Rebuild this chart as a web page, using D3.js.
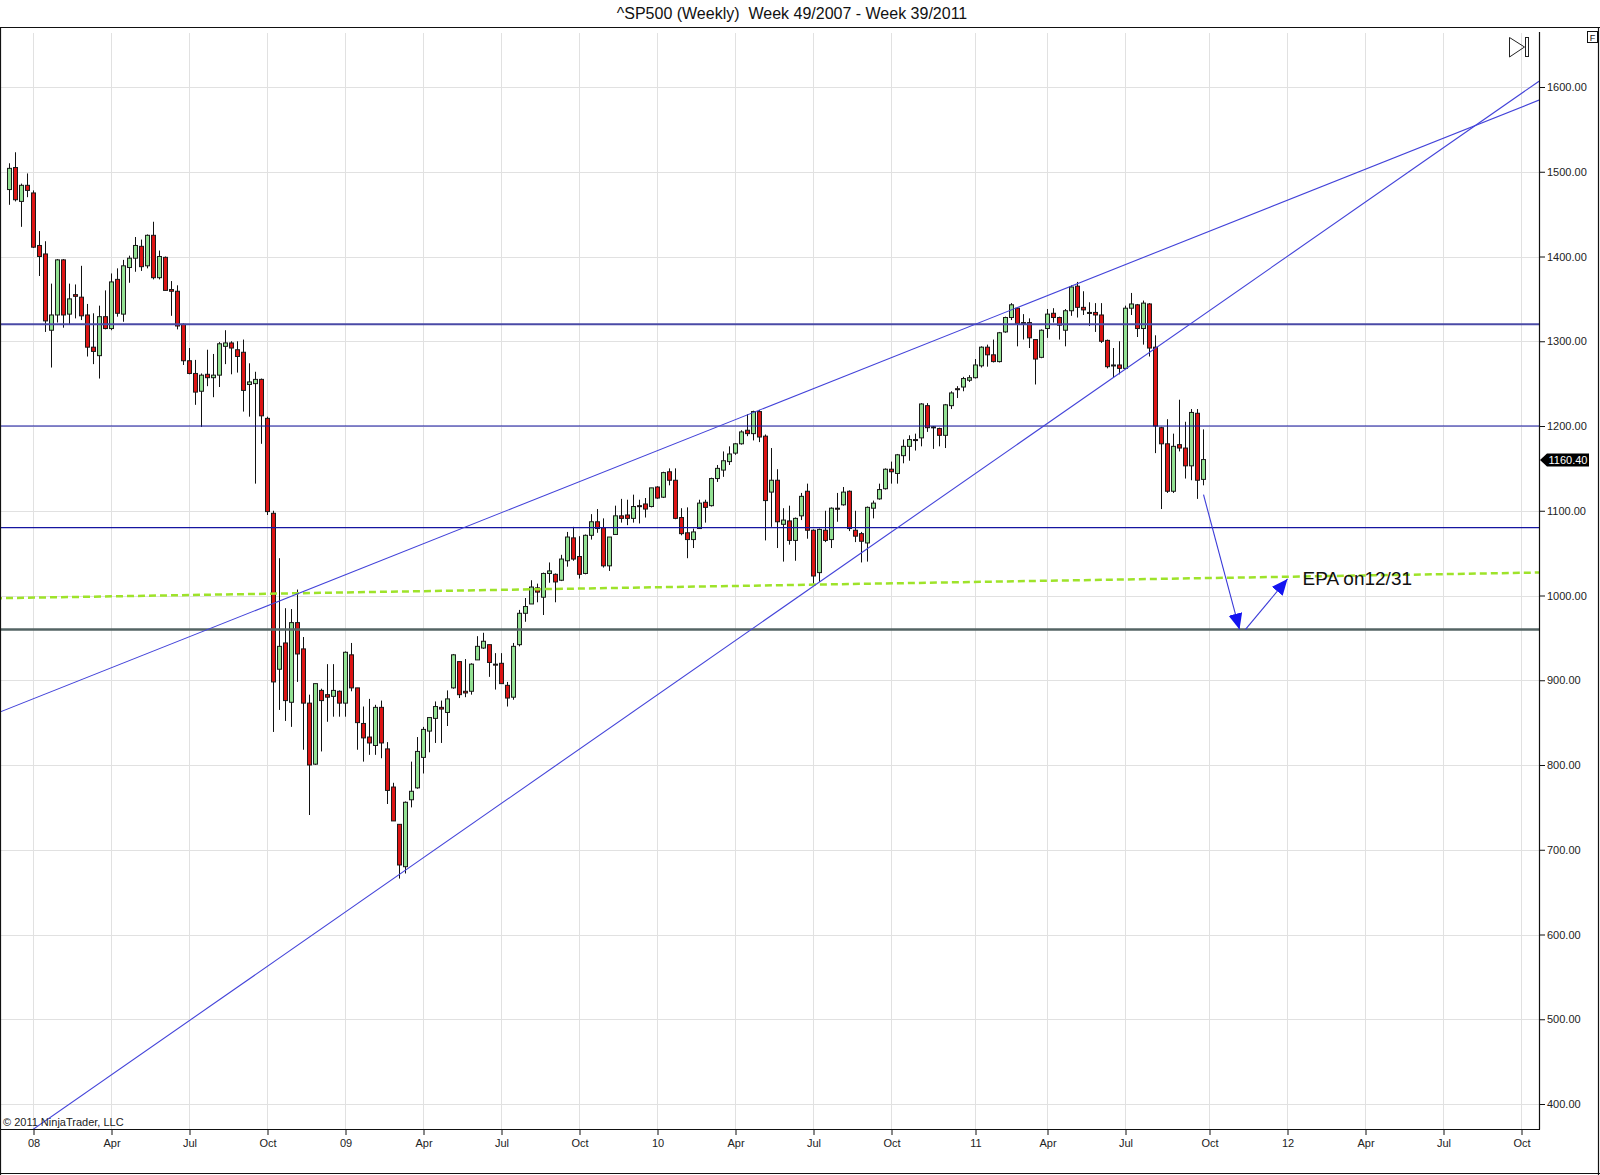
<!DOCTYPE html>
<html><head><meta charset="utf-8">
<script src="https://cdn.jsdelivr.net/npm/d3@7/dist/d3.min.js"></script>
<style>
body{margin:0;background:#fff;}
svg{display:block;font-family:"Liberation Sans",Arial,Helvetica,sans-serif;}
</style>
</head><body>
<svg id="chart" width="1600" height="1175"></svg>
<script>
// ---------------- DATA ----------------
const title = "^SP500 (Weekly)  Week 49/2007 - Week 39/2011";
const firstWeekEnd = "2007-12-07";          // Friday ending the first weekly bar
const opens = [1479,1505,1465,1484,1475,1413,1403,1313,1331,1396,1332,1355,1352,1331,1293,1283,1329,1315,1373,1332,
1387,1398,1412,1389,1425,1375,1399,1361,1359,1320,1277,1262,1241,1261,1257,1260,1294,1298,1290,1287,
1249,1250,1255,1209,1097,913,944,874,968,937,873,801,888,883,881,887,873,930,891,849,
833,823,868,819,774,730,680,759,773,809,840,855,868,862,891,922,887,887,924,938,
942,919,920,894,880,942,979,990,1009,998,1026,1025,1018,1041,1068,1046,1026,1071,1087,1080,
1035,1072,1094,1095,1091,1106,1108,1105,1128,1116,1146,1136,1092,1074,1066,1079,1110,1106,1138,1148,
1158,1168,1179,1195,1191,1217,1188,1122,1136,1084,1088,1065,1094,1123,1077,1027,1077,1066,1103,1107,
1123,1077,1073,1062,1103,1114,1126,1149,1144,1165,1176,1184,1186,1224,1198,1197,1189,1224,1244,1246,
1254,1257,1271,1293,1284,1276,1311,1328,1339,1322,1322,1302,1281,1315,1333,1328,1313,1336,1365,1340,
1334,1334,1331,1301,1272,1272,1268,1339,1343,1315,1344,1293,1198,1179,1123,1178,1174,1153,1215,1137];
const highs = [1510,1523,1486,1498,1478,1430,1418,1368,1397,1397,1368,1367,1389,1344,1333,1342,1360,1380,1386,1396,
1401,1423,1420,1426,1441,1407,1400,1371,1366,1321,1292,1278,1262,1290,1285,1299,1313,1300,1300,1302,
1274,1264,1256,1211,1100,1044,985,984,1007,951,883,896,890,919,919,888,934,944,891,869,
878,871,876,827,779,730,757,804,833,845,856,875,876,888,931,922,925,920,952,956,
942,932,932,898,944,983,997,1018,1014,1027,1039,1026,1048,1075,1081,1070,1072,1096,1102,1091,
1069,1106,1114,1113,1119,1113,1115,1127,1129,1146,1150,1150,1103,1104,1079,1113,1113,1139,1154,1170,
1176,1180,1195,1214,1218,1219,1190,1174,1149,1103,1106,1092,1121,1132,1078,1079,1100,1104,1121,1128,
1124,1100,1075,1105,1112,1132,1150,1158,1167,1184,1189,1191,1227,1227,1200,1198,1226,1241,1247,1258,
1260,1279,1294,1296,1302,1311,1329,1345,1340,1332,1327,1302,1314,1338,1339,1329,1338,1366,1370,1359,
1346,1345,1345,1302,1292,1300,1342,1357,1344,1348,1345,1307,1199,1208,1191,1231,1205,1220,1220,1196];
const lows = [1461,1465,1435,1470,1410,1377,1311,1269,1322,1316,1320,1327,1325,1282,1273,1256,1314,1313,1329,1323,
1369,1382,1383,1386,1373,1373,1360,1330,1314,1272,1261,1225,1199,1247,1234,1246,1273,1261,1263,1217,
1211,1132,1179,1095,839,865,852,845,898,818,741,800,816,851,857,857,857,887,818,804,
812,812,808,754,734,666,672,750,772,790,815,826,826,846,890,879,880,883,924,937,
904,889,896,869,877,940,969,990,992,977,1015,992,1017,1034,1041,1020,1025,1066,1074,1033,
1029,1072,1086,1083,1086,1085,1092,1104,1114,1115,1130,1090,1071,1044,1056,1079,1086,1105,1134,1140,
1154,1166,1178,1188,1183,1181,1065,1081,1056,1040,1060,1041,1089,1067,1014,1016,1063,1056,1087,1106,
1076,1063,1039,1040,1091,1113,1125,1132,1132,1156,1159,1171,1176,1193,1173,1176,1174,1220,1233,1241,
1252,1256,1269,1270,1275,1275,1310,1325,1294,1302,1292,1249,1280,1304,1322,1302,1294,1330,1328,1331,
1318,1311,1298,1268,1257,1261,1267,1331,1305,1296,1282,1168,1102,1121,1121,1170,1138,1136,1114,1130];
const closes = [1504,1467,1484,1478,1411,1400,1324,1331,1396,1331,1350,1353,1330,1293,1288,1329,1315,1370,1333,1389,
1398,1413,1388,1425,1375,1400,1360,1359,1318,1277,1262,1240,1260,1257,1260,1297,1298,1292,1282,1242,
1252,1255,1212,1099,898,940,876,968,931,873,800,896,876,880,888,873,933,891,850,832,
826,868,826,770,734,682,756,769,816,842,856,869,866,878,930,883,885,919,940,946,
921,918,896,879,940,979,987,1010,1004,1026,1029,1016,1043,1069,1043,1025,1071,1087,1079,1035,
1069,1094,1091,1091,1105,1105,1102,1127,1115,1145,1136,1091,1073,1066,1075,1109,1104,1138,1150,1159,
1167,1179,1193,1191,1217,1187,1112,1136,1087,1089,1065,1091,1117,1077,1023,1078,1065,1103,1102,1122,
1079,1070,1064,1104,1109,1125,1149,1146,1166,1176,1184,1183,1226,1198,1199,1189,1225,1239,1243,1256,
1257,1272,1293,1284,1276,1310,1328,1343,1321,1321,1304,1279,1313,1332,1328,1319,1336,1364,1340,1337,
1333,1331,1300,1270,1271,1268,1339,1344,1315,1345,1292,1200,1179,1123,1176,1174,1153,1216,1136,1160.40];

const priceTicks = [400,500,600,700,800,900,1000,1100,1200,1300,1400,1500,1600];
const quarterLabels = ["08","Apr","Jul","Oct","09","Apr","Jul","Oct","10","Apr","Jul","Oct",
                       "11","Apr","Jul","Oct","12","Apr","Jul","Oct"];
const totalWeeks = 256;                       // bars + empty future space on the axis

const levelLines = [1320, 1200, 1080];       // horizontal blue levels
const supportLevel = 960;                     // dark grey level
const upperTrend = [[124,1216],[178,1368]];  // [bar index, price] anchors
const lowerTrend = [[65,671],[134,1011]];
const epaTrend = [[0,997],[200,1020.6]];      // green dashed line
const arrowDown = [[199,1119],[205,960]];
const arrowUp = [[206,960],[213,1019.5]];
const epaText = {i:215.5, p:1020, text:"EPA on12/31"};
const lastPrice = closes[closes.length-1];

// ---------------- LAYOUT ----------------
const W = 1600, H = 1175;
const plot = {left:0, right:1539, top:32, bottom:1129};

const svg = d3.select("#chart");
svg.append("rect").attr("width",W).attr("height",H).attr("fill","#fff");

const x = d3.scaleLinear().domain([0, 255]).range([9.5, 1539.5]);
const y = d3.scaleLinear().domain([400, 1600]).range([1104, 87]);

// quarter tick indices from weekly dates
const start = new Date(firstWeekEnd + "T12:00:00");
const weekDates = d3.range(totalWeeks).map(i => d3.timeDay.offset(start, 7*i));
const qTicks = [];
weekDates.forEach((d,i) => {
  if (i === 0) return;
  const m = d.getMonth(), pm = weekDates[i-1].getMonth();
  if (m !== pm && m % 3 === 0) qTicks.push(i);
});
const tickLabelMap = new Map(qTicks.map((t,k) => [t, quarterLabels[k]]));

// clip for plot
svg.append("defs").append("clipPath").attr("id","plotclip")
  .append("rect").attr("x",plot.left).attr("y",plot.top)
  .attr("width",plot.right-plot.left).attr("height",plot.bottom-plot.top);

// grid
const grid = svg.append("g");
grid.selectAll("line.h").data(priceTicks).join("line")
  .attr("x1",plot.left+1).attr("x2",plot.right)
  .attr("y1",d=>Math.round(y(d))+0.5).attr("y2",d=>Math.round(y(d))+0.5)
  .attr("stroke","#e1e1e1").attr("stroke-width",1);
grid.selectAll("line.v").data(qTicks).join("line")
  .attr("x1",d=>x(d)).attr("x2",d=>x(d))
  .attr("y1",plot.top+1).attr("y2",plot.bottom)
  .attr("stroke","#e1e1e1").attr("stroke-width",1);

// candles
const bars = opens.map((o,i)=>({i, o, h:highs[i], l:lows[i], c:closes[i]}));
const cg = svg.append("g").attr("clip-path","url(#plotclip)");
cg.selectAll("line.wick").data(bars).join("line")
  .attr("x1",d=>x(d.i)).attr("x2",d=>x(d.i))
  .attr("y1",d=>y(d.h)).attr("y2",d=>y(d.l))
  .attr("stroke","#111").attr("stroke-width",1);
cg.selectAll("rect.body").data(bars).join("rect")
  .attr("x",d=>x(d.i)-2).attr("width",4)
  .attr("y",d=>y(Math.max(d.o,d.c)))
  .attr("height",d=>Math.max(1, Math.abs(y(d.o)-y(d.c))))
  .attr("fill",d=>d.c>=d.o ? "#93e193" : "#dc1414")
  .attr("stroke","#1a1a1a").attr("stroke-width",1);

// drawings
const dg = svg.append("g").attr("clip-path","url(#plotclip)");
function extLine(anchors){
  const [[i1,p1],[i2,p2]] = anchors;
  const s = (p2-p1)/(i2-i1);
  const iL = x.invert(plot.left-5), iR = x.invert(plot.right);
  return [[iL, p1 + s*(iL-i1)], [iR, p1 + s*(iR-i1)]];
}
const lineGen = d3.line().x(d=>x(d[0])).y(d=>y(d[1]));

dg.append("path").attr("d",lineGen(extLine(epaTrend)))
  .attr("fill","none").attr("stroke","#9ee32a").attr("stroke-width",2.5)
  .attr("stroke-dasharray","7,4");

dg.selectAll("line.lvl").data(levelLines).join("line")
  .attr("x1",plot.left).attr("x2",plot.right)
  .attr("y1",d=>y(d)).attr("y2",d=>y(d))
  .attr("stroke",(d,k)=>k===0 ? "#4a4aa6" : "#1515a0")
  .attr("stroke-width",(d,k)=>k===0 ? 2 : 1.2);

dg.append("line").attr("x1",plot.left).attr("x2",plot.right)
  .attr("y1",y(supportLevel)).attr("y2",y(supportLevel))
  .attr("stroke","#546464").attr("stroke-width",2.5);

[upperTrend, lowerTrend].forEach(t=>{
  dg.append("path").attr("d",lineGen(extLine(t)))
    .attr("fill","none").attr("stroke","#4343d9").attr("stroke-width",1.1);
});

// arrows
const defs = svg.select("defs");
defs.append("marker").attr("id","ahead").attr("markerUnits","userSpaceOnUse")
  .attr("markerWidth",17).attr("markerHeight",15).attr("refX",16).attr("refY",7)
  .attr("orient","auto")
  .append("path").attr("d","M0,0 L16,7 L0,14 Z").attr("fill","#1414f0");
[arrowDown, arrowUp].forEach(a=>{
  svg.append("path").attr("d",lineGen(a)).attr("fill","none")
    .attr("stroke","#3a3ad8").attr("stroke-width",1.1)
    .attr("marker-end","url(#ahead)");
});
svg.append("text").attr("x",x(epaText.i)).attr("y",y(epaText.p)+6)
  .attr("font-size",19).attr("fill","#111").text(epaText.text);

// axes
const yAxis = d3.axisRight(y).tickValues(priceTicks).tickFormat(d3.format(".2f")).tickSize(6).tickPadding(2);
const ya = svg.append("g").attr("transform",`translate(${plot.right},0)`).call(yAxis);
ya.select(".domain").remove();
ya.selectAll(".tick line").attr("stroke","#111");
ya.selectAll(".tick text").attr("font-size",11).attr("fill","#222")
  .attr("font-family","Liberation Sans, Arial, sans-serif");
svg.append("line").attr("x1",plot.right+0.5).attr("x2",plot.right+0.5)
  .attr("y1",plot.top).attr("y2",plot.bottom+0.5).attr("stroke","#111").attr("stroke-width",1.2);

const xAxis = d3.axisBottom(x).tickValues(qTicks).tickFormat(d=>tickLabelMap.get(d)).tickSize(6).tickPadding(4);
const xa = svg.append("g").attr("transform",`translate(0,${plot.bottom})`).call(xAxis);
xa.select(".domain").remove();
xa.selectAll(".tick line").attr("stroke","#111");
xa.selectAll(".tick text").attr("font-size",11).attr("fill","#222")
  .attr("font-family","Liberation Sans, Arial, sans-serif");
svg.append("line").attr("x1",0).attr("x2",plot.right+1)
  .attr("y1",plot.bottom+0.5).attr("y2",plot.bottom+0.5).attr("stroke","#111").attr("stroke-width",1.2);

// last price marker
const ly = Math.round(y(lastPrice));
svg.append("path")
  .attr("d",`M${plot.right+1},${ly} L${plot.right+8},${ly-6.5} L${plot.right+50},${ly-6.5} L${plot.right+50},${ly+6.5} L${plot.right+8},${ly+6.5} Z`)
  .attr("fill","#000");
svg.append("text").attr("x",plot.right+29).attr("y",ly+4).attr("text-anchor","middle")
  .attr("font-size",11).attr("fill","#fff").text(d3.format(".2f")(lastPrice));

// frame
svg.append("line").attr("x1",0).attr("x2",W).attr("y1",27.5).attr("y2",27.5).attr("stroke","#111").attr("stroke-width",1.2);
svg.append("line").attr("x1",0.5).attr("x2",0.5).attr("y1",27).attr("y2",H).attr("stroke","#111").attr("stroke-width",1.2);
svg.append("line").attr("x1",W-1.5).attr("x2",W-1.5).attr("y1",27).attr("y2",H).attr("stroke","#111").attr("stroke-width",1.2);
svg.append("line").attr("x1",0).attr("x2",W).attr("y1",H-1.5).attr("y2",H-1.5).attr("stroke","#111").attr("stroke-width",1.2);

// title (keep the double space)
svg.append("text").attr("x",792).attr("y",19).attr("text-anchor","middle")
  .attr("xml:space","preserve").style("white-space","pre")
  .attr("font-size",16).attr("fill","#111").text(title);

// copyright
svg.append("text").attr("x",3).attr("y",1126).attr("font-size",11).attr("fill","#222")
  .text("\u00A9 2011 NinjaTrader, LLC");

// UI glyphs: "go to end" icon and "F" box
svg.append("path").attr("d","M1509.5,37.5 L1524.5,47 L1509.5,57 Z").attr("fill","none").attr("stroke","#222").attr("stroke-width",1);
svg.append("rect").attr("x",1525.5).attr("y",37.5).attr("width",3).attr("height",19).attr("fill","none").attr("stroke","#222").attr("stroke-width",1);
svg.append("rect").attr("x",1587.5).attr("y",31.5).attr("width",10).attr("height",11).attr("fill","#fff").attr("stroke","#111").attr("stroke-width",1);
svg.append("text").attr("x",1592.5).attr("y",41).attr("text-anchor","middle").attr("font-size",9).attr("fill","#111").text("F");
</script>
</body></html>
